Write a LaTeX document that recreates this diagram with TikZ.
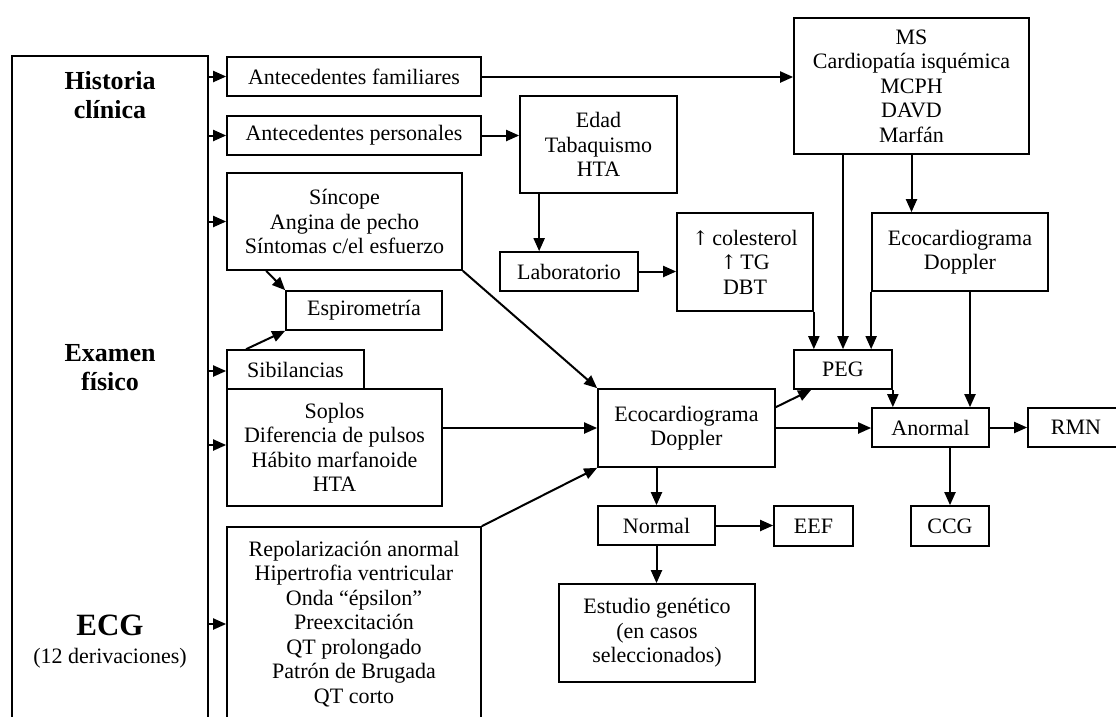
\documentclass[tikz,border=0pt]{standalone}
\usepackage{fontspec}
\setmainfont{Liberation Serif}
\usetikzlibrary{arrows.meta}
\tikzset{
  box/.style={draw, line width=1.7pt, inner sep=0pt, align=center,
    font=\fontsize{22}{24.5}\selectfont},
  lbl/.style={inner sep=0pt, align=center},
  arr/.style={line width=2pt, -{Triangle[length=13pt,width=11pt]}},
  ln/.style={line width=2pt}
}
\begin{document}
\begin{tikzpicture}[x=1pt,y=-1pt]
\fill[white] (0,0) rectangle (1116,716);
\clip (0,0) rectangle (1116,716);
% left column
\node[box, minimum width=196pt, minimum height=684pt] (left) at (110,398) {};
\node[lbl, font=\fontsize{26}{29}\selectfont\bfseries] (hc) at (110,95) {Historia\\clínica};
\node[lbl, font=\fontsize{26}{29}\selectfont\bfseries] (ef) at (110,368) {Examen\\físico};
\node[lbl, font=\fontsize{31}{33}\selectfont\bfseries] (ecgt) at (110,625) {ECG};
\node[lbl, font=\fontsize{22}{24}\selectfont] (der) at (110,658) {(12 derivaciones)};
% boxes
\node[box, minimum width=254pt, minimum height=39pt] (af) at (354,76.5) {Antecedentes familiares};
\node[box, minimum width=254pt, minimum height=39pt] (ap) at (354,135.5) {Antecedentes personales};
\node[box, minimum width=235pt, minimum height=97pt] (sin) at (344.5,221.5) {Síncope\\Angina de pecho\\Síntomas c/el esfuerzo};
\node[box, minimum width=156pt, minimum height=39pt] (esp) at (364,310.5) {Espirometría};
\node[box, minimum width=137pt, minimum height=39pt] (sib) at (295.5,369.5) {Sibilancias};
\node[box, minimum width=215pt, minimum height=117pt] (sop) at (334.5,447.5) {Soplos\\Diferencia de pulsos\\Hábito marfanoide\\HTA};
\node[box, minimum width=254pt, minimum height=194pt] (ecg) at (354,624) {Repolarización anormal\\Hipertrofia ventricular\\Onda “épsilon”\\Preexcitación\\QT prolongado\\Patrón de Brugada\\QT corto};
\node[box, minimum width=157pt, minimum height=97pt] (edad) at (598.5,144.5) {Edad\\Tabaquismo\\HTA};
\node[box, minimum width=138pt, minimum height=39pt] (lab) at (569,271.5) {Laboratorio};
\node[box, minimum width=136pt, minimum height=98pt] (col) at (745,262) {\fontspec{DejaVu Serif}\fontsize{20}{24.5}\selectfont↑\,\fontspec{Liberation Serif}\fontsize{22}{24.5}\selectfont colesterol\\\fontspec{DejaVu Serif}\fontsize{20}{24.5}\selectfont↑\,\fontspec{Liberation Serif}\fontsize{22}{24.5}\selectfont TG\\DBT};
\node[box, minimum width=235pt, minimum height=136pt] (ms) at (911.5,86) {MS\\Cardiopatía isquémica\\MCPH\\DAVD\\Marfán};
\node[box, minimum width=176pt, minimum height=78pt] (eco2) at (960,252) {Ecocardiograma\\Doppler};
\node[box, minimum width=98pt, minimum height=39pt] (peg) at (843,369.5) {PEG};
\node[box, minimum width=177pt, minimum height=78pt] (eco) at (686.5,428) {Ecocardiograma\\Doppler};
\node[box, minimum width=117pt, minimum height=39pt] (anor) at (930.5,427.5) {Anormal};
\node[box, minimum width=96pt, minimum height=39pt] (rmn) at (1076,427.5) {RMN};
\node[box, minimum width=117pt, minimum height=39pt] (norm) at (656.5,525.5) {Normal};
\node[box, minimum width=79pt, minimum height=40pt] (eef) at (813.5,526) {EEF};
\node[box, minimum width=78pt, minimum height=40pt] (ccg) at (950,526) {CCG};
\node[box, minimum width=196pt, minimum height=98pt] (est) at (657,633) {Estudio genético\\(en casos\\seleccionados)};
% arrows from left column
\draw[arr] (af.west -| left.east) -- (af.west);
\draw[arr] (ap.west -| left.east) -- (ap.west);
\draw[arr] (sin.west -| left.east) -- (sin.west);
\draw[arr] ([yshift=-1.5pt]sib.west -| left.east) -- ([yshift=-1.5pt]sib.west);
\draw[arr] ([yshift=2.5pt]sop.west -| left.east) -- ([yshift=2.5pt]sop.west);
\draw[arr] (ecg.west -| left.east) -- (ecg.west);
% other connectors
\draw[arr] ([yshift=-0.5pt]af.east) -- ([yshift=-0.5pt]af.east -| ms.west);
\draw[arr] (ap.east) -- (ap.east -| edad.west);
\draw[arr] ([xshift=20pt]edad.south west) -- ([xshift=20pt]edad.south west |- lab.north);
\draw[arr] (lab.east) -- (lab.east -| col.west);
\draw[arr] (col.south east) -- (col.south east |- peg.north);
\draw[arr] (peg.north |- ms.south) -- (peg.north);
\draw[arr] (ms.south) -- (ms.south |- eco2.north);
\draw[arr] (eco2.south west) -- (eco2.south west |- peg.north);
\draw[arr] ([xshift=10pt]eco2.south) -- ([xshift=10pt]eco2.south |- anor.north);
\draw[arr] (peg.south east) -- (peg.south east |- anor.north);
\draw[arr] ([yshift=-19pt]eco.north east) -- ([xshift=18pt]peg.south west);
\draw[arr] (eco.east) -- (eco.east -| anor.west);
\draw[arr] (anor.east) -- (rmn.west);
\draw[arr] (ccg.north |- anor.south) -- (ccg.north);
\draw[arr] (norm.north |- eco.south) -- (norm.north);
\draw[arr] (norm.east) -- (norm.east -| eef.west);
\draw[arr] (norm.south) -- (norm.south |- est.north);
\draw[arr] (sin.south east) -- (eco.north west);
\draw[arr] (eco.west -| sop.east) -- (eco.west);
\draw[arr] (ecg.north east) -- (eco.south west);
\draw[arr] ([xshift=40pt]sin.south west) -- (esp.north west);
\draw[arr] ([xshift=20pt]sib.north west) -- (esp.south west);
\end{tikzpicture}
\end{document}
